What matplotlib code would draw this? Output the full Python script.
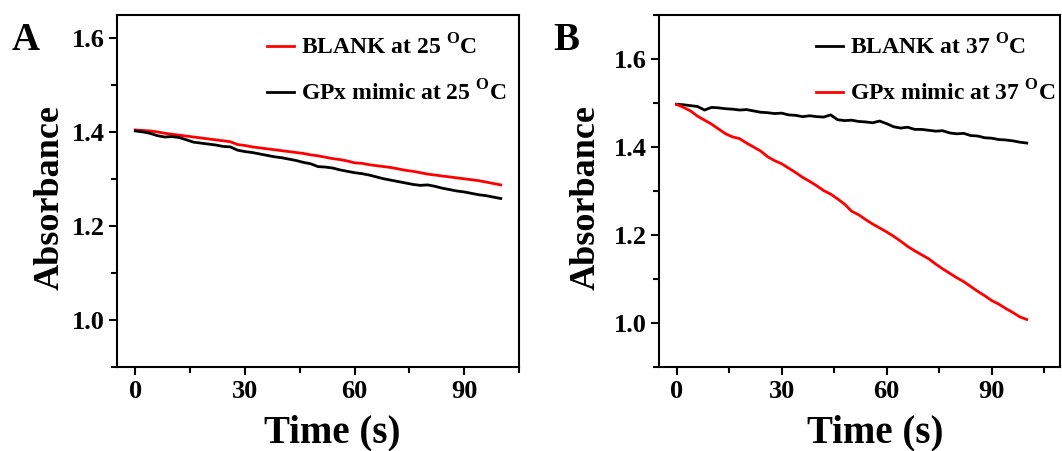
import matplotlib
matplotlib.use("Agg")
import matplotlib.pyplot as plt
from matplotlib.ticker import MultipleLocator

plt.rcParams['font.family'] = ['Liberation Serif', 'DejaVu Serif']
plt.rcParams['font.weight'] = 'bold'
plt.rcParams['mathtext.fontset'] = 'custom'
plt.rcParams['mathtext.rm'] = 'Liberation Serif:bold'
plt.rcParams['mathtext.bf'] = 'Liberation Serif:bold'

# time axis (s), read every 2 s
time_s = list(range(0, 101, 2))

# panel A, 25 C
blank_25 = [1.405, 1.404, 1.403, 1.401, 1.398, 1.396, 1.394, 1.392, 1.390, 1.388,
            1.386, 1.384, 1.382, 1.380, 1.374, 1.372, 1.369, 1.367, 1.365, 1.363,
            1.361, 1.359, 1.357, 1.355, 1.352, 1.350, 1.347, 1.344, 1.342, 1.339,
            1.335, 1.334, 1.331, 1.329, 1.327, 1.325, 1.322, 1.319, 1.317, 1.314,
            1.311, 1.309, 1.307, 1.305, 1.303, 1.301, 1.299, 1.297, 1.294, 1.291,
            1.288]
gpx_25 = [1.403, 1.401, 1.398, 1.393, 1.390, 1.391, 1.389, 1.384, 1.379, 1.377,
          1.375, 1.373, 1.370, 1.369, 1.362, 1.359, 1.357, 1.354, 1.351, 1.348,
          1.346, 1.343, 1.340, 1.336, 1.333, 1.327, 1.326, 1.324, 1.320, 1.317,
          1.314, 1.312, 1.309, 1.305, 1.301, 1.298, 1.295, 1.292, 1.289, 1.287,
          1.288, 1.285, 1.281, 1.278, 1.275, 1.273, 1.270, 1.267, 1.265, 1.262,
          1.259]

# panel B, 37 C
blank_37 = [1.497, 1.496, 1.494, 1.492, 1.484, 1.490, 1.489, 1.487, 1.486, 1.484,
            1.485, 1.482, 1.479, 1.478, 1.476, 1.477, 1.473, 1.472, 1.469, 1.471,
            1.469, 1.468, 1.473, 1.462, 1.460, 1.461, 1.458, 1.457, 1.455, 1.459,
            1.453, 1.446, 1.443, 1.445, 1.440, 1.440, 1.438, 1.436, 1.437, 1.432,
            1.430, 1.431, 1.426, 1.425, 1.421, 1.420, 1.417, 1.416, 1.414, 1.411,
            1.409]
gpx_37 = [1.497, 1.490, 1.482, 1.470, 1.461, 1.452, 1.441, 1.430, 1.423, 1.419,
          1.409, 1.400, 1.391, 1.378, 1.369, 1.362, 1.352, 1.342, 1.331, 1.322,
          1.312, 1.301, 1.293, 1.282, 1.270, 1.254, 1.246, 1.235, 1.225, 1.216,
          1.207, 1.197, 1.186, 1.174, 1.164, 1.155, 1.146, 1.134, 1.123, 1.113,
          1.103, 1.094, 1.083, 1.072, 1.062, 1.051, 1.043, 1.033, 1.024, 1.014,
          1.008]

labels_a = [r'BLANK at 25 $^\mathrm{O}$C', r'GPx mimic at 25 $^\mathrm{O}$C']
labels_b = [r'BLANK at 37 $^\mathrm{O}$C', r'GPx mimic at 37 $^\mathrm{O}$C']

W, H = 1062, 451
fig = plt.figure(figsize=(W / 100, H / 100), dpi=100)


def style_axes(ax, xlim, ylim, xlab_x, ylab_x):
    ax.set_xlim(*xlim)
    ax.set_ylim(*ylim)
    ax.xaxis.set_major_locator(MultipleLocator(30))
    ax.xaxis.set_minor_locator(MultipleLocator(15))
    ax.yaxis.set_minor_locator(MultipleLocator(0.1))
    ax.set_yticks([1.0, 1.2, 1.4, 1.6])
    ax.yaxis.set_major_formatter(plt.FuncFormatter(lambda v, p: f'{v:.1f}'))
    ax.tick_params(which='both', direction='out', width=1.5, top=False, right=False,
                   labelsize=19, pad=3)
    ax.tick_params(which='major', length=6)
    ax.tick_params(which='minor', length=4)
    for s in ax.spines.values():
        s.set_linewidth(1.5)
    ax.set_xlabel('Time (s)', fontsize=28, fontweight='bold')
    ax.set_ylabel('Absorbance', fontsize=26, fontweight='bold')
    ax.xaxis.set_label_coords(xlab_x, -0.135)
    ax.yaxis.set_label_coords(ylab_x, 0.48)


# panel A
ax1 = fig.add_axes([117 / W, 1 - 367 / H, 402 / W, 352 / H])
ax1.plot(time_s, blank_25, color='red', lw=2, label=labels_a[0])
ax1.plot(time_s, gpx_25, color='black', lw=2, label=labels_a[1])
style_axes(ax1, (-5, 105), (0.9, 1.65), 0.535, -0.125)
ax1.legend(loc='upper right', bbox_to_anchor=(0.97, 0.945), frameon=False,
           fontsize=17, handlelength=1.15, handletextpad=0.3, labelspacing=0.85,
           borderpad=0, borderaxespad=0)
fig.text(12 / W, 1 - 50 / H, 'A', fontsize=28, fontweight='bold')

# panel B
ax2 = fig.add_axes([659 / W, 1 - 367 / H, 401 / W, 352 / H])
ax2.plot(time_s, blank_37, color='black', lw=2, label=labels_b[0])
ax2.plot(time_s, gpx_37, color='red', lw=2, label=labels_b[1])
style_axes(ax2, (-5, 109.5), (0.9, 1.7), 0.539, -0.14)
ax2.legend(loc='upper right', bbox_to_anchor=(0.99, 0.945), frameon=False,
           fontsize=17, handlelength=1.15, handletextpad=0.3, labelspacing=0.85,
           borderpad=0, borderaxespad=0)
fig.text(553 / W, 1 - 50 / H, 'B', fontsize=28, fontweight='bold')

fig.savefig('out.png', dpi=100)
